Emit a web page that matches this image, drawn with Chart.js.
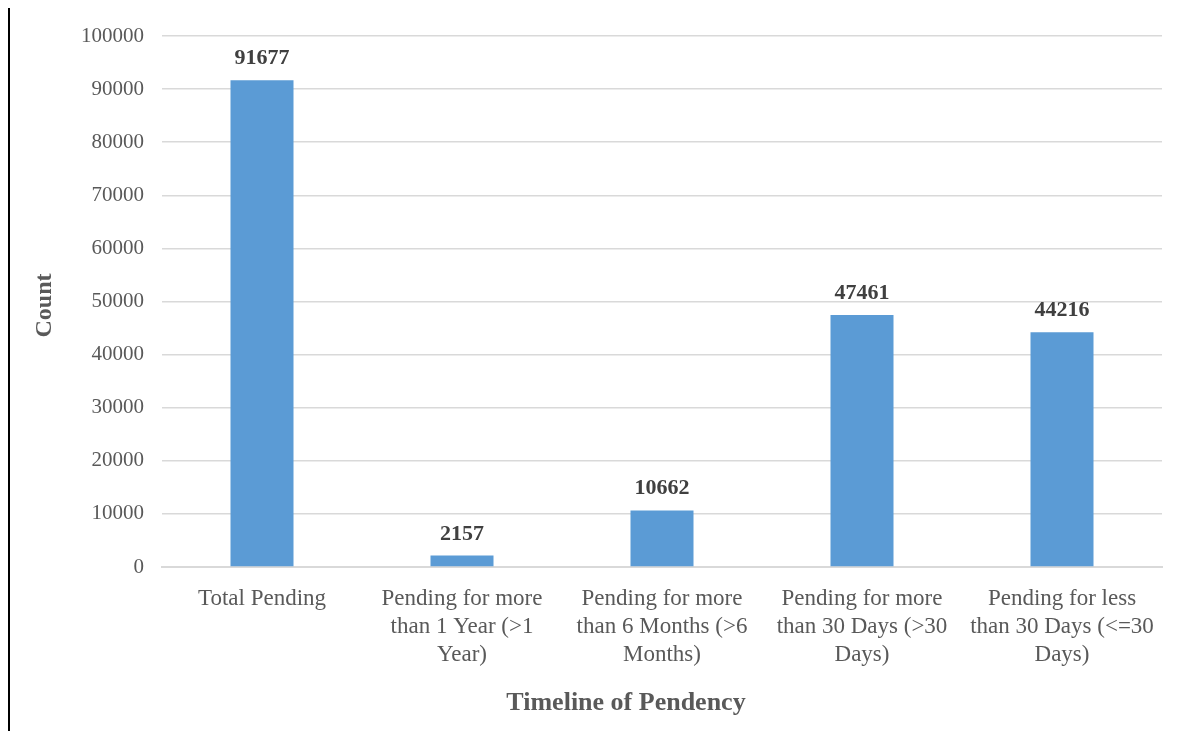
<!DOCTYPE html>
<html><head><meta charset="utf-8">
<script src="https://cdn.jsdelivr.net/npm/chart.js@4"></script>
<style>html,body{margin:0;padding:0;background:#fff}#wrap{width:1184px;height:731px;position:relative}</style>
</head><body><div id="wrap"><canvas id="c"></canvas></div>
<script>
const categories = [
  ["Total Pending"],
  ["Pending for more", "than 1 Year (>1", "Year)"],
  ["Pending for more", "than 6 Months (>6", "Months)"],
  ["Pending for more", "than 30 Days (>30", "Days)"],
  ["Pending for less", "than 30 Days (<=30", "Days)"]
];
const counts = [91677, 2157, 10662, 47461, 44216];
const yTicks = [0, 10000, 20000, 30000, 40000, 50000, 60000, 70000, 80000, 90000, 100000];
const xTitle = "Timeline of Pendency";
const yTitle = "Count";

const FONT = "'Liberation Serif', 'Times New Roman', serif";

const extras = {
  id: 'extras',
  afterDatasetsDraw(chart) {
    const ctx = chart.ctx;
    const meta = chart.getDatasetMeta(0);
    ctx.save();
    ctx.fillStyle = '#404040';
    ctx.font = 'bold 22px ' + FONT;
    ctx.textAlign = 'center';
    ctx.textBaseline = 'alphabetic';
    meta.data.forEach((bar, i) => {
      ctx.fillText(String(counts[i]), bar.x, bar.y - 16);
    });
    ctx.restore();
  },
  afterDraw(chart) {
    const ctx = chart.ctx;
    const a = chart.chartArea;
    ctx.save();
    ctx.strokeStyle = '#000';
    ctx.lineWidth = 2;
    ctx.beginPath();
    ctx.moveTo(9, 8);
    ctx.lineTo(9, 731);
    ctx.stroke();
    ctx.fillStyle = '#595959';
    ctx.font = 'bold 26px ' + FONT;
    ctx.textAlign = 'center';
    ctx.textBaseline = 'middle';
    ctx.fillText(xTitle, (a.left + a.right) / 2 - 36, 703);
    ctx.font = 'bold 24px ' + FONT;
    ctx.translate(45, (a.top + a.bottom) / 2 + 4);
    ctx.rotate(-Math.PI / 2);
    ctx.fillText(yTitle, 0, 0);
    ctx.restore();
  }
};

new Chart(document.getElementById('c'), {
  type: 'bar',
  data: {
    labels: categories,
    datasets: [{
      data: counts,
      backgroundColor: '#5B9BD5',
      borderWidth: 0,
      categoryPercentage: 1,
      barPercentage: 0.315
    }]
  },
  options: {
    responsive: true,
    maintainAspectRatio: false,
    animation: false,
    devicePixelRatio: 1,
    layout: { padding: { left: 0, top: 36, right: 22, bottom: 0 } },
    plugins: { legend: { display: false }, tooltip: { enabled: false } },
    scales: {
      x: {
        grid: { display: false, drawTicks: false },
        border: { display: true, color: '#d9d9d9', width: 2 },
        ticks: {
          color: '#595959',
          font: { family: FONT, size: 23, lineHeight: 1.22 },
          padding: 18,
          maxRotation: 0,
          autoSkip: false
        },
        afterFit(s) { s.height = 164; }
      },
      y: {
        min: 0, max: 100000,
        afterBuildTicks(s) { s.ticks = yTicks.map(v => ({ value: v })); },
        grid: { color: '#d9d9d9', lineWidth: 1.5, drawTicks: false },
        border: { display: false },
        ticks: {
          color: '#595959',
          font: { family: FONT, size: 21 },
          padding: 18,
          callback: (v) => String(v)
        },
        afterFit(s) { s.width = 162; }
      }
    }
  },
  plugins: [extras]
});
</script>
</body></html>
